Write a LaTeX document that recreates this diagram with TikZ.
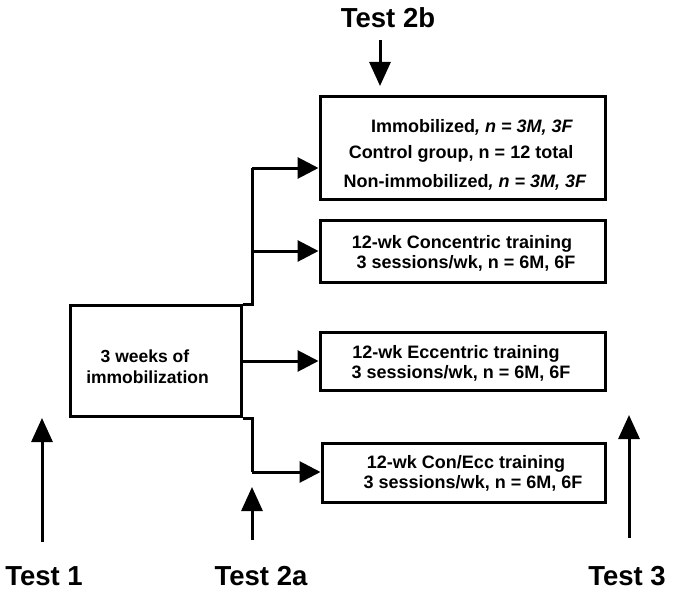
\documentclass[tikz,border=0pt]{standalone}
\usepackage{fontspec}
\setmainfont{Liberation Sans}
\usetikzlibrary{arrows.meta}
\begin{document}
\begin{tikzpicture}[x=1pt,y=-1pt,
  box/.style={draw,line width=3pt,rectangle,inner sep=0pt},
  lbl/.style={anchor=base,inner sep=0pt,font=\fontsize{18}{21}\selectfont\bfseries},
  big/.style={anchor=base,inner sep=0pt,font=\fontsize{27.5}{30}\selectfont\bfseries},
  conn/.style={line width=3pt,-{Triangle[length=21pt,width=21pt]}},
  line/.style={line width=3pt},
  varr/.style={line width=3pt,-{Triangle[length=24pt,width=21pt]}}]
\useasboundingbox (0,0) rectangle (677,591);
% boxes
\node[box,minimum width=285pt,minimum height=102pt] (ctrl) at (462.5,148) {};
\node[box,minimum width=285pt,minimum height=62pt] (conc) at (462.5,251) {};
\node[box,minimum width=285pt,minimum height=58pt] (ecc) at (462.5,361) {};
\node[box,minimum width=283pt,minimum height=59pt] (conecc) at (463.5,472.5) {};
\node[box,minimum width=171pt,minimum height=111pt] (imm) at (155.5,361) {};
% texts
\node[lbl] (ct1) at (472,132) {Immobilized\textit{, n = 3M, 3F}};
\node[lbl] (ct2) at (461,158) {Control group, n = 12 total};
\node[lbl] (ct3) at (465,187) {Non-immobilized\textit{, n = 3M, 3F}};
\node[lbl] (cc1) at (462,248) {12-wk Concentric training};
\node[lbl] (cc2) at (466,268) {3 sessions/wk, n = 6M, 6F};
\node[lbl] (ec1) at (456,358) {12-wk Eccentric training};
\node[lbl] (ec2) at (461,378) {3 sessions/wk, n = 6M, 6F};
\node[lbl] (ce1) at (466,468) {12-wk Con/Ecc training};
\node[lbl] (ce2) at (473,488) {3 sessions/wk, n = 6M, 6F};
\node[lbl,font=\fontsize{17.5}{21}\selectfont\bfseries] (im1) at (145,362) {3 weeks of};
\node[lbl,font=\fontsize{17.5}{21}\selectfont\bfseries] (im2) at (147.5,383) {immobilization};
% test labels
\node[big] (t2b) at (388,28) {Test 2b};
\node[big] (t1) at (44,585) {Test 1};
\node[big] (t2a) at (261,585) {Test 2a};
\node[big] (t3) at (627,585.5) {Test 3};
% connectors
\coordinate (c1) at (252,168);
\coordinate (c2) at (252,472);
\draw[line] (imm.north east) -| (c1);
\draw[conn] (c1) -- (c1 -| ctrl.west);
\draw[conn] (c1 |- conc.west) -- (conc.west);
\draw[conn] (imm.east) -- (ecc.west);
\draw[line] (imm.south east) -| (c2);
\draw[conn] (c2) -- (c2 -| conecc.west);
% test arrows
\coordinate (a2bs) at (380,40);
\coordinate (a2be) at (380,86);
\coordinate (a1s) at (42,542);
\coordinate (a1e) at (42,418);
\coordinate (a2as) at (252,540);
\coordinate (a2ae) at (252,487);
\coordinate (a3s) at (629,538);
\coordinate (a3e) at (629,415);
\draw[varr] (a2bs) -- (a2be);
\draw[varr] (a1s) -- (a1e);
\draw[varr] (a2as) -- (a2ae);
\draw[varr] (a3s) -- (a3e);
\end{tikzpicture}
\end{document}
